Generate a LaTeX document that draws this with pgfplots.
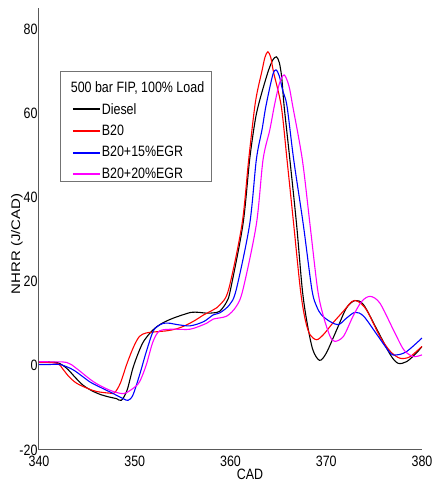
\documentclass[border=0pt]{standalone}
\usepackage{graphicx}
\usepackage{fontspec}
\setmainfont{Liberation Sans}[FakeStretch=0.83]
\newfontfamily\ylfont{Liberation Sans}
\usepackage{pgfplots}
\pgfplotsset{compat=1.18}
\definecolor{mymag}{RGB}{255,0,255}
\definecolor{myred}{RGB}{255,0,0}
\definecolor{myblue}{RGB}{0,0,255}
\newcommand\lstrut{\rule[-2pt]{0pt}{12pt}}
\begin{document}
\begin{tikzpicture}
\begin{axis}[
  scale only axis,
  width=383pt, height=442pt,
  xmin=340, xmax=380, ymin=-20, ymax=85,
  axis x line*=bottom, axis y line*=left,
  axis line style={-, draw=black!65, line width=1pt},
  xtick={340,350,360,370,380},
  ytick={-20,0,20,40,60,80},
  major tick length=0pt,
  /pgf/number format/assume math mode=true,
  /pgf/number format/1000 sep={},
  tick label style={font=\fontsize{15}{18}\selectfont},
  xticklabel style={yshift=-2pt},
  yticklabel style={xshift=2pt},
  label style={font=\fontsize{15}{18}\selectfont},
  xlabel={CAD},
  ylabel={\scalebox{1}[0.83]{\ylfont NHRR (J/CAD)}},
  x label style={at={(rel axis cs:0.551,-0.0543)},anchor=center},
  y label style={at={(rel axis cs:-0.0574,0.466)},anchor=center},
  legend cell align=left,
  legend image code/.code={\path (0pt,0pt); \draw[#1,line width=2pt] (6pt,0pt) -- (33pt,0pt);},
  legend style={at={(rel axis cs:0.0548,0.8575)}, anchor=north west,
    draw=black!55, fill=white, line width=0.6pt,
    font=\fontsize{15}{18}\selectfont,
    inner xsep=6pt, inner ysep=0pt, row sep=7.5pt,
    nodes={inner sep=1pt}},
  every axis plot/.append style={line width=1.1pt, smooth},
]
\addlegendimage{empty legend}
\addlegendentry{\rule[-6.5pt]{0pt}{26.4pt}\hspace{-31pt}500 bar FIP, 100\% Load}

% Diesel
\addplot[black] coordinates {
(340,0.9)(341,0.9)(342.0,0.7)(342.9,-0.6)(343.8,-2.8)(344.6,-4.6)(345.5,-5.9)
(346.4,-6.8)(347.3,-7.4)(348.1,-7.8)(348.6,-8.2)(349.2,-5.8)(349.8,-0.6)
(350.4,3.2)(350.9,5.7)(351.6,7.8)(352.3,9.3)(353.1,10.4)(354.0,11.3)(355.0,12.1)
(355.9,12.7)(356.7,12.7)(357.5,12.5)(358.3,12.6)(358.9,13.0)(359.6,15.2)(360.0,18.1)
(361.3,33.6)(362.0,49)(362.6,58.6)(363.1,63.5)(363.9,69.7)(364.4,72.6)(364.8,73.4)
(365.1,72.0)(365.35,68.5)
(365.6,61.7)(366.2,49)(366.9,33.6)(367.5,18.1)(368.0,10.2)(368.6,3.8)(369.3,1.3)
(370.0,3.0)(371.1,8.6)(372.1,13.7)(373.0,15.5)(373.9,14.5)(375.3,8.6)(376.7,2.6)
(377.5,0.6)(378.4,1.0)(379.4,3.0)(380,4.6)
};
\addlegendentry{\lstrut Diesel}

% B20
\addplot[myred] coordinates {
(340,0.8)(341,0.8)(342.0,0.5)(342.5,-0.8)(343.1,-2.5)(343.9,-4.1)(345.0,-5.3)
(346.0,-6.1)(347.4,-6.5)(347.9,-6.4)(348.5,-4.1)(349.2,0.6)(349.9,4.6)(350.5,7.0)
(351.2,7.8)(352.3,8.1)(353.3,8.3)(354.4,8.8)(355.4,9.7)(356.3,10.8)(357.2,12.1)
(358.2,13.3)(358.9,14.5)(359.8,18.1)(361.2,33.6)(361.9,49)(362.6,62.6)(363.3,70.2)
(363.6,73.3)(363.9,74.6)(364.2,73.3)(364.5,69.7)(365.3,61.7)(365.9,49)(366.6,33.6)(367.3,18.1)(367.8,11)
(368.3,7.4)(369.0,6.2)(369.7,7.4)(370.7,10.2)(371.8,13)(372.7,15.3)(373.3,15.3)
(374.2,13.3)(375.6,7)(376.7,3.4)(377.7,1.8)(378.7,2.1)(379.8,4.2)(380,4.6)
};
\addlegendentry{\lstrut B20}

% B20+15%EGR
\addplot[myblue] coordinates {
(340,0.3)(341,0.3)(342.2,0.3)(343.6,-1.0)(345.3,-3.8)(346.4,-5.1)(347.4,-6.2)
(348.8,-7.8)(349.3,-8.2)(349.8,-7.0)(350.5,-2.2)(351.2,3.3)(351.9,8.1)(352.4,9.4)
(353.0,10.1)(353.7,10.1)(354.4,9.8)(355.8,9.5)(357.2,10.5)(358.2,12.1)(358.9,12.6)
(359.9,14.5)(360.6,18.1)(362.0,33.6)(362.7,49)(363.3,56.2)(363.7,61.7)(364.4,69.0)
(364.75,70.3)(365.1,68.8)(365.45,65.4)(365.9,61.7)(366.6,49)(367.6,33.6)(368.5,18.1)(369.0,14.1)
(369.5,12.1)(370.4,10.5)(371.3,9.8)(372.1,11.3)(373.0,12.7)(373.9,11.8)(375.3,7.4)
(376.7,3.0)(377.4,2.6)(378.4,3.4)(380,6.6)
};
\addlegendentry{\lstrut B20+15\%EGR}

% B20+20%EGR
\addplot[mymag] coordinates {
(340,0.95)(341,0.95)(342.9,0.8)(343.9,-0.6)(345.7,-3.8)(347.4,-5.8)(348.8,-6.6)
(349.8,-5.4)(350.5,-3.8)(351.2,0.2)(351.9,5.7)(352.6,8.3)(354.0,8.7)(355.8,8.7)
(357.5,10.1)(358.2,11.1)(359.6,11.8)(360.6,14.1)(361.3,18.1)(362.7,33.6)(363.4,49)
(364.1,56)(364.6,62)(365.1,67.0)(365.6,69.1)(366.1,66.5)(366.5,61.7)(367.5,49)(368.3,33.6)
(369.1,18.1)(369.7,11.8)(370.4,7.0)(370.9,5.8)(371.8,7.0)(372.8,11.8)(373.7,15.3)
(374.6,16.5)(375.6,14.9)(377.0,8.6)(378.1,3.8)(379.1,2.2)(380,2.6)
};
\addlegendentry{\lstrut B20+20\%EGR}

\coordinate (bl) at (rel axis cs:0,0);
\end{axis}
\path (bl) ++(-39pt,-34pt) coordinate (BL);
\path (bl) ++(389pt,450pt) coordinate (TR);
\useasboundingbox (BL) rectangle (TR);
\end{tikzpicture}
\end{document}
